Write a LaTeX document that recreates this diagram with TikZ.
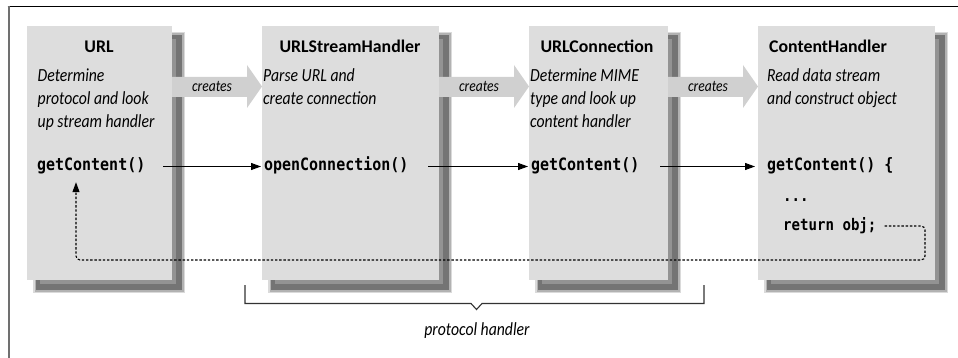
\documentclass[tikz,border=0pt]{standalone}
\usepackage{fontspec}
\setmainfont{Carlito}
\newfontfamily\descfont[FakeStretch=0.85]{Carlito}
\newfontfamily\codefont[FakeStretch=0.88]{DejaVu Sans Mono}
\usetikzlibrary{arrows.meta,calc}
\definecolor{boxfill}{HTML}{DDDDDD}
\definecolor{crfill}{HTML}{D0D0D0}
\definecolor{shA}{HTML}{DADADA}
\definecolor{shB}{HTML}{B2B2B2}
\definecolor{shC}{HTML}{747474}
\definecolor{shD}{HTML}{939393}
\definecolor{framegray}{HTML}{707070}
\definecolor{brk}{HTML}{333333}
\newcommand\mybox[5]{%
  \fill[shA] (#2+6,#3+6) rectangle (#4+13,#5+13);
  \fill[shB] (#2+7.5,#3+7.5) rectangle (#4+11.5,#5+11.5);
  \fill[shC] (#2+9,#3+9) rectangle (#4+10,#5+10);
  \fill[shD] (#2+13,#3+13) rectangle (#4+4,#5+4);
  \node[boxnode, minimum width={(#4)-(#2)}, minimum height={(#5)-(#3)}] (#1) at (#2,#3) {};
}
\begin{document}
\begin{tikzpicture}[x=1pt,y=-1pt,
  boxnode/.style={anchor=north west, inner sep=0, outer sep=0, fill=boxfill, draw=none},
  titletext/.style={anchor=base, inner sep=0, font=\bfseries\fontsize{17.8}{21}\selectfont},
  desctext/.style={anchor=north west, inner sep=0, align=left, font=\descfont\itshape\fontsize{18.5}{23}\selectfont},
  codetext/.style={anchor=base west, inner sep=0, text height=12pt, text depth=3pt, font=\codefont\bfseries\fontsize{17}{20}\selectfont},
  codesmall/.style={anchor=base west, inner sep=0, text height=10pt, text depth=2pt, font=\codefont\bfseries\fontsize{16}{18}\selectfont},
  crlabel/.style={inner sep=0, font=\descfont\itshape\fontsize{16}{18}\selectfont},
  flow/.style={-{Triangle[length=10pt,width=7pt]}, line width=1pt},
  retflow/.style={-{Triangle[length=10pt,width=7pt]}, line width=1.1pt, dash pattern=on 2.4pt off 1.8pt, rounded corners=4pt},
]
\fill[white] (0,0) rectangle (958,358);
\useasboundingbox (0,0) rectangle (958,358);
% frame
\draw[line width=1.2pt] (7.5,6.5) -- (958,6.5);
\draw[framegray, line width=2pt] (8.5,6) -- (8.5,358);

% boxes with shadows
\mybox{b1}{27}{26}{172}{280}
\mybox{b2}{262}{26}{439}{280}
\mybox{b3}{529}{26}{668}{280}
\mybox{b4}{758}{26}{935}{280}

% creates arrows
\foreach \a/\b/\n in {b1/b2/cr1, b2/b3/cr2, b3/b4/cr3}{
  \fill[crfill] ([shift={(0,51)}]\a.north east) -- ([shift={(-15,51)}]\b.north west)
     -- ([shift={(-15,39)}]\b.north west) -- ([shift={(0,60.5)}]\b.north west)
     -- ([shift={(-15,82)}]\b.north west) -- ([shift={(-15,71)}]\b.north west)
     -- ([shift={(0,71)}]\a.north east) -- cycle;
  \node[crlabel] (\n) at ($(\a.north east)!0.5!([xshift=-15pt]\b.north west) + (2.5,61)$) {creates};
}

% titles
\node[titletext] (t1) at (99,53) {URL};
\node[titletext] (t2) at (350,53) {URLStreamHandler};
\node[titletext] (t3) at (597,53) {URLConnection};
\node[titletext] (t4) at (828,53) {ContentHandler};

% descriptions
\node[desctext] (d1) at (37.5,67) {\rule{0pt}{14pt}Determine\\protocol and look\\up stream handler};
\node[desctext] (d2) at (263,67) {\rule{0pt}{14pt}Parse URL and\\create connection};
\node[desctext] (d3) at (530,67) {\rule{0pt}{14pt}Determine MIME\\type and look up\\content handler};
\node[desctext] (d4) at (767,67) {\rule{0pt}{14pt}Read data stream\\and construct object};

% code
\node[codetext] (c1) at (37,171) {getContent()};
\node[codetext] (c2) at (264,171) {openConnection()};
\node[codetext] (c3) at (531,171) {getContent()};
\node[codetext] (c4) at (767,171) {getContent() \{};
\node[codesmall] (e4) at (783,202) {...};
\node[codesmall] (r4) at (783,230) {return obj;};

% call arrows
\draw[flow] ($(b1.east |- c1.east)+(-9,0)$) -- ($(c2.west)+(-3,0)$);
\draw[flow] ($(b2.east |- c2.east)+(-11,0)$) -- ($(c3.west)+(-3,0)$);
\draw[flow] ($(b3.east |- c3.east)+(-8,0)$) -- ($(b4.west |- c4.west)+(-3,0)$);

% return path
\coordinate (rc) at (925,260);
\draw[retflow] ($(r4.east)+(8,0)$) -| (rc) -| ($(c1.south west)+(39,8)$);

% protocol handler bracket
\draw[brk, line width=1.1pt] (245,285) -- (245,303.5) -- (471,303.5) -- (476.5,309.5) -- (482,303.5) -- (704,303.5) -- (704,285);
\node[inner sep=0, font=\descfont\itshape\fontsize{18.5}{21}\selectfont] (ph) at (477,331) {protocol handler};
\end{tikzpicture}
\end{document}
